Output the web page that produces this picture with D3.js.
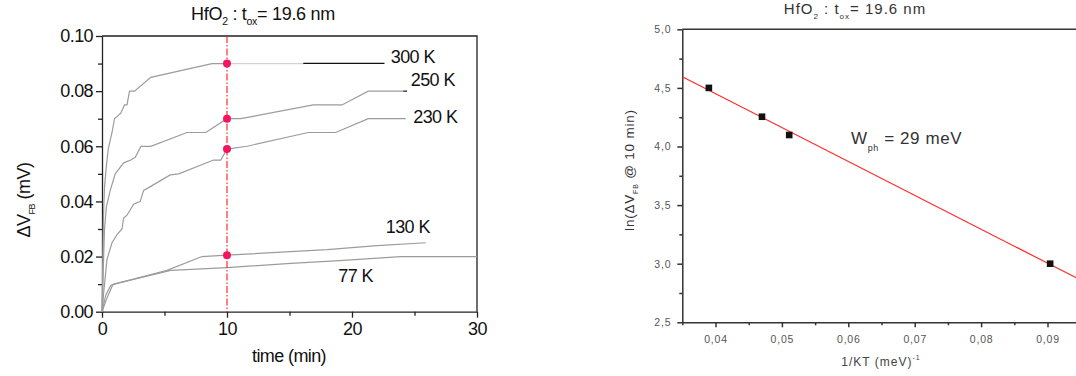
<!DOCTYPE html>
<html>
<head>
    <style>
        body{
            margin:0;
            background:#fff;
        }
        svg{
            display:block;
            font-family:"Liberation Sans", Arial, sans-serif;
        }
        .curve{
            fill:none;
            stroke-width:1.2;
        }
        .axisL text{
            font-size:18px;
            letter-spacing:-0.6px;
            fill:#111;
        }
        .axisL path, .axisL line{
            stroke:#222;
            stroke-width:1.3;
        }
        .axisR text{
            font-size:10.5px;
            letter-spacing:0.8px;
            fill:#555;
        }
        .axisR path, .axisR line{
            stroke:#333;
            stroke-width:1.5;
        }
    </style>
    <script src="https://d3js.org/d3.v7.min.js"></script>
</head>
<body>
    <svg width="1076" height="376"></svg>

    <script>
        // ---- left panel: delta V_FB vs stress time, [time (min), dV (mV)] ----
        var curve300      = [[0,0],[0.05,0.015],[0.12,0.035],[0.2,0.045],[0.33,0.052],[0.5,0.059],[0.8,0.065],[1.0,0.07],[1.5,0.072],[1.8,0.075],[2.0,0.075],[2.2,0.08],[2.6,0.08],[3.9,0.085],[8.8,0.09],[10,0.09]];
        var curve300Faint = [[10,0.09],[16.1,0.09]];
        var curve300Tail  = [[16.1,0.0901],[22.6,0.0901]];
        var curve250      = [[0,0],[0.1,0.015],[0.2,0.03],[0.35,0.038],[0.66,0.044],[1.06,0.05],[1.73,0.054],[2.3,0.055],[2.66,0.056],[3.12,0.06],[3.9,0.06],[6.8,0.065],[8.3,0.065],[10,0.07],[11.1,0.07],[16.9,0.075],[19.2,0.075],[21.3,0.08],[24.1,0.08]];
        var curve250Tail  = [[24.1,0.08],[24.4,0.08]];
        var curve230      = [[0,0],[0.13,0.0067],[0.4,0.019],[0.8,0.025],[1.2,0.028],[1.6,0.03],[1.73,0.034],[2.0,0.035],[2.53,0.039],[3.06,0.04],[3.33,0.044],[3.73,0.045],[5.46,0.0496],[6.13,0.05],[8.93,0.055],[9.5,0.055],[10,0.059],[11.6,0.06],[16.5,0.065],[18.7,0.065],[21.3,0.07],[24.3,0.07]];
        var curve130      = [[0,0],[0.4,0.005],[0.85,0.0097],[1.0,0.01],[5.2,0.015],[8.0,0.02],[10,0.0205],[18,0.0225],[22,0.024],[25.9,0.025]];
        var curve77       = [[0,0],[0.3,0.006],[0.7,0.0095],[0.93,0.01],[5.5,0.015],[10,0.016],[15.1,0.0175],[19,0.0185],[23.9,0.02],[30,0.02]];
        var tempLabels    = ["300 K","250 K","230 K","130 K","77 K"];
        var markerTime    = 10;
        var markerValues  = [0.09, 0.07, 0.059, 0.0205];
        var xTicksL       = [0, 10, 20, 30];
        var yTicksL       = [0, 0.02, 0.04, 0.06, 0.08, 0.10];

        // ---- right panel: Arrhenius-type plot ----
        var invKT   = [0.039, 0.047, 0.0511, 0.0904];
        var lnDV    = [4.5, 4.254, 4.098, 3.0];
        var xTicksR = [0.04, 0.05, 0.06, 0.07, 0.08, 0.09];
        var yTicksR = [2.5, 3.0, 3.5, 4.0, 4.5, 5.0];

        var svg = d3.select("svg");

        // ================= left =================
        var xL = d3.scaleLinear().domain([0, 30]).range([102, 477]);
        var yL = d3.scaleLinear().domain([0, 0.10]).range([311.7, 36]);

        var gL = svg.append("g");

        // frame top / right
        gL.append("path")
          .attr("d", "M" + xL(0) + "," + yL(0.1) + "H" + xL(30) + "V" + yL(0))
          .attr("fill", "none").attr("stroke", "#222").attr("stroke-width", 1.3);

        // minor ticks
        gL.append("g").attr("class", "axisL")
          .attr("transform", "translate(0," + yL(0) + ")")
          .call(d3.axisBottom(xL).tickValues([5, 15, 25]).tickSize(4).tickFormat(""))
          .select(".domain").remove();
        gL.append("g").attr("class", "axisL")
          .attr("transform", "translate(" + xL(0) + ",0)")
          .call(d3.axisLeft(yL).tickValues([0.01, 0.03, 0.05, 0.07, 0.09]).tickSize(4).tickFormat(""))
          .select(".domain").remove();

        gL.append("g").attr("class", "axisL")
          .attr("transform", "translate(0," + yL(0) + ")")
          .call(d3.axisBottom(xL).tickValues(xTicksL).tickSize(6).tickSizeOuter(0).tickPadding(5).tickFormat(d3.format("d")));
        gL.append("g").attr("class", "axisL")
          .attr("transform", "translate(" + xL(0) + ",0)")
          .call(d3.axisLeft(yL).tickValues(yTicksL).tickSize(6).tickSizeOuter(0).tickPadding(3).tickFormat(d3.format(".2f")));

        var line = d3.line()
                     .x(function(d) { return xL(d[0]); })
                     .y(function(d) { return yL(d[1]); });

        [curve300, curve250, curve230, curve130, curve77].forEach(function(c) {
            gL.append("path").attr("class", "curve").style("stroke", "#9c9c9c").attr("d", line(c));
        });
        gL.append("path").attr("class", "curve").attr("d", line(curve300Faint)).style("stroke", "#d2d2d2");
        gL.append("path").attr("class", "curve").attr("d", line(curve300Tail)).style("stroke", "#111");
        gL.append("path").attr("class", "curve").attr("d", line(curve250Tail)).style("stroke", "#111");

        // dash-dot marker line at 10 min
        gL.append("line")
          .attr("x1", xL(markerTime)).attr("x2", xL(markerTime))
          .attr("y1", yL(0.1)).attr("y2", yL(0))
          .attr("stroke", "#ff1a1a").attr("stroke-width", 1.1)
          .attr("stroke-dasharray", "7,2,1.5,2");

        gL.selectAll(".dot").data(markerValues).enter().append("circle")
          .attr("cx", xL(markerTime))
          .attr("cy", function(d) { return yL(d); })
          .attr("r", 4)
          .attr("fill", "#f5145f");

        // temperature labels, anchored in data units
        var labelAt = [[23.1, 0.0902], [24.7, 0.0819], [24.9, 0.0684], [22.7, 0.0285], [18.9, 0.0107]];
        gL.selectAll(".tl").data(tempLabels).enter().append("text")
          .attr("x", function(d, i) { return xL(labelAt[i][0]); })
          .attr("y", function(d, i) { return yL(labelAt[i][1]); })
          .attr("font-size", 18).attr("letter-spacing", "-0.6px").attr("fill", "#111")
          .text(function(d) { return d; });

        // title
        var tL = gL.append("text").attr("x", 263).attr("y", 20)
                   .attr("text-anchor", "middle").attr("font-size", 18)
                   .attr("letter-spacing", "-0.3px").attr("fill", "#111");
        tL.append("tspan").text("HfO");
        tL.append("tspan").attr("font-size", 10.5).attr("dy", 5).text("2");
        tL.append("tspan").attr("dy", -5).text(" : t");
        tL.append("tspan").attr("font-size", 10.5).attr("dy", 5).text("ox");
        tL.append("tspan").attr("dy", -5).text("= 19.6 nm");

        gL.append("text").attr("x", 289).attr("y", 362)
          .attr("text-anchor", "middle").attr("font-size", 18)
          .attr("letter-spacing", "-0.6px").attr("fill", "#111")
          .text("time (min)");

        var yLab = gL.append("text").attr("transform", "translate(30,200) rotate(-90)")
                     .attr("text-anchor", "middle").attr("font-size", 18)
                     .attr("letter-spacing", "-0.5px").attr("fill", "#111");
        yLab.append("tspan").text("\u0394V");
        yLab.append("tspan").attr("font-size", 9).attr("dy", 5).text("FB");
        yLab.append("tspan").attr("dy", -5).text(" (mV)");

        // ================= right =================
        var xR = d3.scaleLinear().domain([0.035, 0.1]).range([682.3, 682.3 + 0.065 * 6640]);
        var yR = d3.scaleLinear().domain([2.5, 5.0]).range([322.3, 29.3]);

        var gR = svg.append("g");

        gR.append("line")
          .attr("x1", xR(0.035)).attr("x2", 1080)
          .attr("y1", yR(5)).attr("y2", yR(5))
          .attr("stroke", "#333").attr("stroke-width", 1.5);

        var comma = function(n) { return function(d) { return d.toFixed(n).replace(".", ","); }; };

        gR.append("g").attr("class", "axisR")
          .attr("transform", "translate(0," + yR(2.5) + ")")
          .call(d3.axisBottom(xR).tickValues([0.035, 0.045, 0.055, 0.065, 0.075, 0.085, 0.095]).tickSize(3).tickFormat(""))
          .select(".domain").remove();
        gR.append("g").attr("class", "axisR")
          .attr("transform", "translate(" + xR(0.035) + ",0)")
          .call(d3.axisLeft(yR).tickValues([2.75, 3.25, 3.75, 4.25, 4.75]).tickSize(3).tickFormat(""))
          .select(".domain").remove();

        gR.append("g").attr("class", "axisR")
          .attr("transform", "translate(0," + yR(2.5) + ")")
          .call(d3.axisBottom(xR).tickValues(xTicksR).tickSize(5).tickSizeOuter(0).tickPadding(8).tickFormat(comma(2)));
        gR.append("g").attr("class", "axisR")
          .attr("transform", "translate(" + xR(0.035) + ",0)")
          .call(d3.axisLeft(yR).tickValues(yTicksR).tickSize(5).tickSizeOuter(0).tickPadding(6).tickFormat(comma(1)));

        // least squares fit of ln(dV) vs 1/kT
        var mx = d3.mean(invKT), my = d3.mean(lnDV);
        var sxy = d3.sum(invKT, function(x, i) { return (x - mx) * (lnDV[i] - my); });
        var sxx = d3.sum(invKT, function(x) { return (x - mx) * (x - mx); });
        var slope = sxy / sxx, icpt = my - slope * mx;
        var fitX = xR.domain();

        gR.append("line")
          .attr("x1", xR(fitX[0])).attr("y1", yR(icpt + slope * fitX[0]))
          .attr("x2", xR(fitX[1])).attr("y2", yR(icpt + slope * fitX[1]))
          .attr("stroke", "#ff2a2a").attr("stroke-width", 1.2);

        gR.selectAll(".pt").data(invKT).enter().append("rect")
          .attr("x", function(d) { return xR(d) - 3.3; })
          .attr("y", function(d, i) { return yR(lnDV[i]) - 3.3; })
          .attr("width", 6.6).attr("height", 6.6)
          .attr("fill", "#111");

        var tR = gR.append("text").attr("x", 855).attr("y", 14)
                   .attr("text-anchor", "middle").attr("font-size", 15)
                   .attr("letter-spacing", "1px").attr("fill", "#333");
        tR.append("tspan").text("HfO");
        tR.append("tspan").attr("font-size", 8).attr("dy", 5).text("2");
        tR.append("tspan").attr("dy", -5).text(" : t");
        tR.append("tspan").attr("font-size", 8).attr("dy", 5).text("ox");
        tR.append("tspan").attr("dy", -5).text("= 19.6 nm");

        var wR = gR.append("text").attr("x", 851).attr("y", 144)
                   .attr("font-size", 17).attr("letter-spacing", "0.6px").attr("fill", "#333");
        wR.append("tspan").text("W");
        wR.append("tspan").attr("font-size", 9).attr("dy", 7).text("ph");
        wR.append("tspan").attr("dy", -7).text(" = 29 meV");

        var xlR = gR.append("text").attr("x", 881).attr("y", 366)
                    .attr("text-anchor", "middle").attr("font-size", 12)
                    .attr("letter-spacing", "1px").attr("fill", "#444");
        xlR.append("tspan").text("1/KT  (meV)");
        xlR.append("tspan").attr("font-size", 7).attr("dy", -6).text("-1");

        var ylR = gR.append("text").attr("transform", "translate(634,170) rotate(-90)")
                    .attr("text-anchor", "middle").attr("font-size", 13.5)
                    .attr("letter-spacing", "0.8px").attr("fill", "#333");
        ylR.append("tspan").text("ln(\u0394V");
        ylR.append("tspan").attr("font-size", 7).attr("dy", 4).text("FB");
        ylR.append("tspan").attr("dy", -4).text(" @ 10 min)");
    </script>
</body>
</html>
